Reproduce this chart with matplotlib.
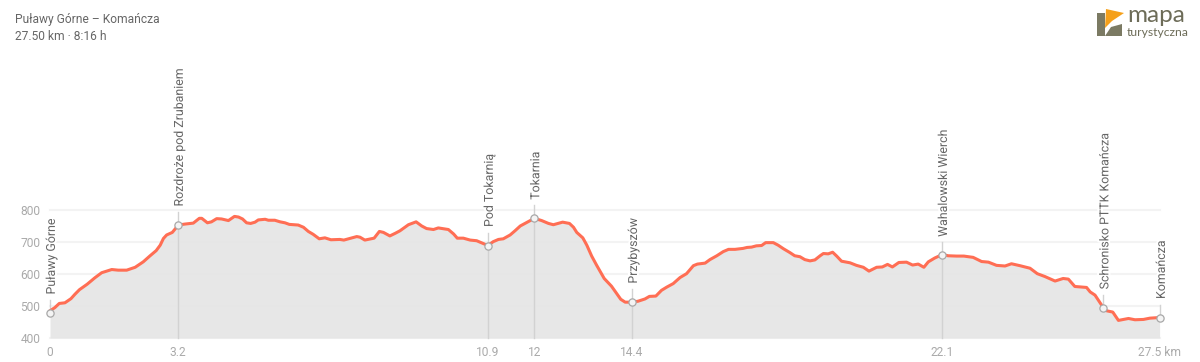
import matplotlib
matplotlib.use('Agg')
import matplotlib.pyplot as plt
import matplotlib.patheffects as pe
from matplotlib.patches import Polygon

plt.rcParams['font.family'] = ['Roboto', 'DejaVu Sans']

title = 'Puławy Górne – Komańcza'
subtitle = '27.50 km · 8:16 h'

km = [0, .12, .23, .37, .52, .62, .73, .92, 1.11, 1.28, 1.53, 1.69, 1.90, 2.11, 2.31, 2.48, 2.63, 2.73, 2.81, 2.89,
      3.03, 3.18, 3.34, 3.55, 3.70, 3.76, 3.90, 4.00, 4.13, 4.25, 4.42, 4.57, 4.67, 4.77, 4.87, 4.97, 5.08, 5.16,
      5.33, 5.41, 5.57, 5.70, 5.82, 5.93, 6.15, 6.28, 6.40, 6.52, 6.67, 6.81, 6.96, 7.18, 7.28, 7.43, 7.60, 7.68,
      7.80, 8.03, 8.16, 8.26, 8.42, 8.55, 8.67, 8.88, 9.07, 9.21, 9.33, 9.50, 9.62, 9.87, 10.0, 10.09, 10.24, 10.41,
      10.57, 10.72, 10.85, 10.98, 11.11, 11.23, 11.40, 11.52, 11.65, 11.81, 12.0, 12.18, 12.35, 12.47, 12.59, 12.70,
      12.87, 12.97, 13.05, 13.20, 13.30, 13.42, 13.54, 13.73, 13.91, 14.04, 14.14, 14.25, 14.43, 14.57, 14.74, 14.85,
      15.01, 15.15, 15.28, 15.44, 15.61, 15.77, 15.94, 16.04, 16.23, 16.35, 16.52, 16.68, 16.81, 16.97, 17.17, 17.27,
      17.38, 17.50, 17.63, 17.73, 17.92, 18.04, 18.17, 18.33, 18.45, 18.58, 18.70, 18.83, 18.95, 19.08, 19.16, 19.28,
      19.39, 19.49, 19.61, 19.82, 19.98, 20.15, 20.29, 20.48, 20.62, 20.75, 20.87, 21.03, 21.22, 21.37, 21.51, 21.65,
      21.76, 21.92, 22.11, 22.25, 22.46, 22.64, 22.87, 23.08, 23.25, 23.45, 23.66, 23.82, 24.03, 24.28, 24.46, 24.65,
      24.90, 25.10, 25.23, 25.39, 25.68, 25.77, 25.89, 26.0, 26.10, 26.18, 26.33, 26.47, 26.72, 26.88, 27.09, 27.25,
      27.49]
elev = [485, 495, 508, 510, 523, 537, 551, 568, 588, 604, 614, 612, 612, 621, 638, 657, 673, 690, 711, 722,
        730, 753, 756, 759, 774, 774, 760, 763, 773, 772, 767, 780, 778, 772, 760, 758, 762, 769,
        771, 768, 768, 763, 760, 755, 753, 746, 733, 724, 710, 713, 707, 708, 706, 711, 717, 715,
        706, 712, 733, 730, 719, 727, 735, 754, 763, 750, 742, 739, 744, 739, 725, 712, 712, 706,
        704, 696, 689, 701, 708, 710, 722, 735, 750, 761, 774, 767, 758, 754, 758, 762,
        758, 746, 730, 713, 690, 656, 628, 586, 562, 539, 521, 512, 512, 515, 522, 530,
        531, 549, 559, 570, 589, 601, 626, 631, 634, 645, 657, 670, 677, 677, 680, 683,
        684, 688, 689, 698, 698, 690, 679, 667, 657, 654, 645, 641, 644, 657, 664, 663,
        668, 656, 640, 635, 627, 621, 609, 621, 622, 630, 622, 636, 637, 628, 631, 621,
        638, 650, 661, 657, 656, 656, 652, 639, 637, 627, 625, 632, 626, 618, 601, 592,
        578, 586, 584, 561, 558, 544, 534, 513, 494, 485, 481, 455, 461, 457, 458, 462,
        464]

stop_names = ['Puławy Górne', 'Rozdroże pod Zrubaniem', 'Pod Tokarnią', 'Tokarnia', 'Przybyszów',
              'Wahalowski Wierch', 'Schronisko PTTK Komańcza', 'Komańcza']
stop_km = [0, 3.17, 10.85, 12, 14.42, 22.1, 26.1, 27.5]
stop_elev = [478, 753, 689, 774, 512, 658, 494, 464]
xticks = [0, 3.17, 10.85, 12, 14.42, 22.1, 27.5]
xtick_labels = ['0', '3.2', '10.9', '12', '14.4', '22.1', '27.5 km']
yticks = [400, 500, 600, 700, 800]

W, H = 1200, 362
fig = plt.figure(figsize=(W / 100, H / 100), dpi=100, facecolor='white')
ax = fig.add_axes([50 / W, 1 - 338 / H, 1110 / W, 128 / H])
ax.set_xlim(0, 27.5)
ax.set_ylim(400, 800)
ax.patch.set_alpha(0)
for s in ax.spines.values():
    s.set_visible(False)

for y in yticks:
    ax.axhline(y, color='#f3f3f3', lw=1.5, zorder=1, clip_on=False)

ax.fill_between(km, elev, 400, color='#e6e6e6', alpha=0.95, lw=0, zorder=2)
ax.plot(km, elev, color='#ff6e54', lw=2.2, zorder=4, solid_joinstyle='round', clip_on=False)

ax.set_xticks(xticks, xtick_labels)
ax.set_yticks(yticks)
ax.tick_params(length=0, labelsize=8.64, labelcolor='#aaaaaa', pad=6)
ax.tick_params(axis='y', pad=7)

# dropline + label for every stop
per_m = 128 / 400
for name, k, e in zip(stop_names, stop_km, stop_elev):
    top = e + 13 / per_m
    bottom = e if name in ('Schronisko PTTK Komańcza', 'Komańcza', 'Puławy Górne') else 400
    ax.plot([k, k], [bottom, top], color='#d2d2d2', lw=1, zorder=3, clip_on=False)
    ax.plot(k, e, 'o', ms=5.2, mfc='#f4f4f4', mec='#a8a8a8', mew=0.9, zorder=5, clip_on=False)
    t = ax.annotate(name, (k, top), xytext=(1, 4), textcoords='offset points', rotation=90, ha='center', va='bottom',
                    fontsize=8.9, color='#666666', zorder=6, annotation_clip=False)
    t.set_path_effects([pe.withStroke(linewidth=3, foreground='white')])

fig.text(15 / W, 1 - 19.5 / H, title, fontsize=8.64, color='#666666', va='center')
fig.text(15 / W, 1 - 36 / H, subtitle, fontsize=8.64, color='#666666', va='center')

# logo
logo = fig.add_axes([0, 0, 1, 1], zorder=10)
logo.set_xlim(0, W)
logo.set_ylim(H, 0)
logo.axis('off')
logo.add_patch(Polygon([(1097, 13), (1105, 13), (1105, 36), (1097, 36)], fc='#7b7a63', lw=0))
logo.add_patch(Polygon([(1105, 36), (1111, 27), (1122, 24), (1122, 36)], fc='#7b7a63', lw=0))
logo.add_patch(Polygon([(1106, 9), (1124, 13), (1112, 21), (1105, 28)], fc='#f5a01a', lw=0))
logo.text(1127, 15.5, 'mapa', fontsize=17.5, color='#6d6c58', va='center', family='Lato')
logo.text(1127, 33, 'turystyczna', fontsize=8.7, color='#6d6c58', va='center', family='Lato')

fig.savefig('out.png', dpi=100)
